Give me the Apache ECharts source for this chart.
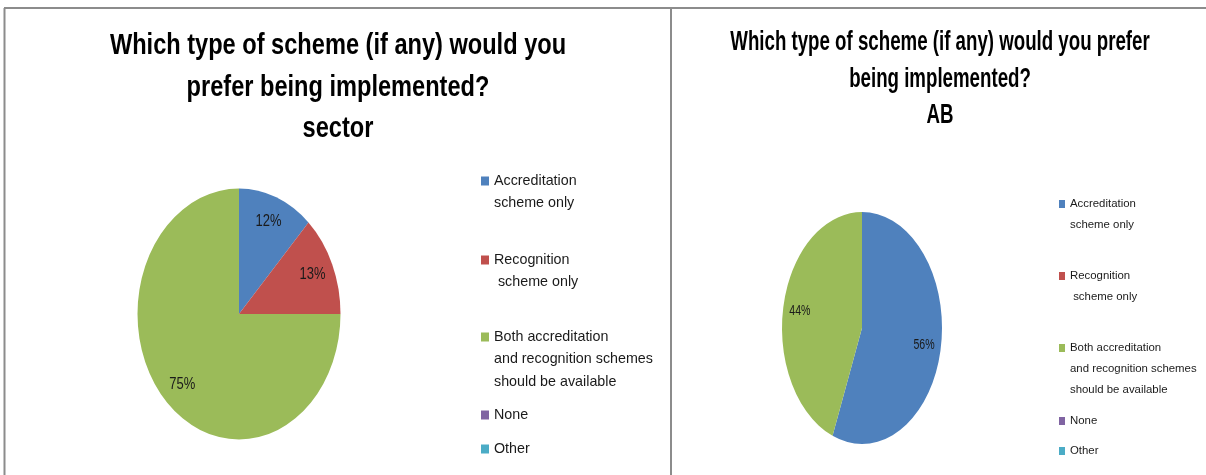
<!DOCTYPE html>
<html>
<head>
<meta charset="utf-8">
<script src="https://cdn.jsdelivr.net/npm/echarts@6/dist/echarts.min.js"></script>
<style>
html,body{margin:0;padding:0;background:#fff;}
#chart{width:1206px;height:475px;}
</style>
</head>
<body>
<div id="chart"></div>
<script>
// ---- data ----
const categories = [
  'Accreditation\nscheme only',
  'Recognition\n scheme only',
  'Both accreditation\nand recognition schemes\nshould be available',
  'None',
  'Other'
];
const sectorValues = [12, 13, 75, 0, 0];
const abValues = [56, 0, 44, 0, 0];
const titleSector = 'Which type of scheme (if any) would you\nprefer being implemented?\nsector';
const titleAB = 'Which type of scheme (if any) would you prefer\nbeing implemented?\nAB';
const colors = ['#4F81BD', '#C0504D', '#9BBB59', '#8064A2', '#4BACC6'];

const FONT = "'Liberation Sans', Arial, sans-serif";

// panel layouts (positions / sizes only)
const panels = [
  {values: sectorValues, title: titleSector, cx: 239, cy: 314, rx: 101.5, ry: 125.5,
   stretch: 1.24, labelSize: 13,
   titleX: 338, titleTop: 25.5, titleSize: 23.6, titleLine: 41.5,
   legendLeft: 481, lineH: 22.5, legendSize: 14.3, iconW: 8, iconH: 9,
   firstLine: [181, 260, 337, 415, 449]},
  {values: abValues, title: titleAB, cx: 862, cy: 328, rx: 80, ry: 116,
   stretch: 1.45, labelSize: 10.6,
   titleX: 940, titleTop: 24.5, titleSize: 18.7, titleLine: 36.5,
   legendLeft: 1059, lineH: 21, legendSize: 11.4, iconW: 6, iconH: 8,
   firstLine: [204, 276, 348, 421, 451]}
];

function sum(a) { return a.reduce((s, x) => s + x, 0); }

const series = [];
const legends = [];
const graphics = [
  {type: 'line', shape: {x1: 4, y1: 8, x2: 1206, y2: 8}, style: {stroke: '#8c8c8c', lineWidth: 2}},
  {type: 'line', shape: {x1: 4.5, y1: 8, x2: 4.5, y2: 475}, style: {stroke: '#8c8c8c', lineWidth: 2}},
  {type: 'line', shape: {x1: 671, y1: 8, x2: 671, y2: 475}, style: {stroke: '#8c8c8c', lineWidth: 2}}
];

panels.forEach(function (p) {
  // chart title (drawn tall, like the stretched original)
  graphics.push({
    type: 'text', x: p.titleX, y: p.titleTop, scaleY: p.stretch,
    style: {
      text: p.title, align: 'center', verticalAlign: 'top',
      fontFamily: FONT, fontWeight: 'bold', fontSize: p.titleSize,
      lineHeight: p.titleLine / p.stretch, fill: '#000'
    }
  });
  categories.forEach(function (name, i) {
    series.push({
      type: 'custom',
      name: name,
      coordinateSystem: 'none',
      itemStyle: {color: colors[i]},
      data: [p.values[i]],
      silent: true,
      renderItem: function (params, api) {
        const v = api.value(0);
        if (!v) return null;
        const total = sum(p.values);
        const before = sum(p.values.slice(0, i));
        const a0 = -Math.PI / 2 + 2 * Math.PI * before / total;
        const a1 = a0 + 2 * Math.PI * v / total;
        const mid = (a0 + a1) / 2;
        return {
          type: 'group',
          children: [
            {
              type: 'sector',
              x: p.cx, y: p.cy,
              scaleX: p.rx / p.ry,
              shape: {cx: 0, cy: 0, r0: 0, r: p.ry, startAngle: a0, endAngle: a1, clockwise: true},
              style: {fill: colors[i]}
            },
            {
              type: 'text',
              x: p.cx + 0.79 * p.rx * Math.cos(mid),
              y: p.cy + 0.79 * p.ry * Math.sin(mid),
              scaleY: p.stretch,
              style: {
                text: Math.round(v / total * 100) + '%',
                align: 'center', verticalAlign: 'middle',
                fontFamily: FONT, fontSize: p.labelSize, fill: '#1a1a1a'
              }
            }
          ]
        };
      }
    });
    const n = name.split('\n').length;
    legends.push({
      left: p.legendLeft,
      top: p.firstLine[i] - (n - 0.5) * p.lineH,
      orient: 'vertical',
      padding: 0,
      itemGap: 0,
      itemWidth: p.iconW,
      itemHeight: p.iconH,
      icon: 'rect',
      selectedMode: false,
      textStyle: {fontFamily: FONT, fontSize: p.legendSize, lineHeight: p.lineH, color: '#1a1a1a',
                  rich: {a: {}}},
      data: [{name: name, textStyle: {padding: [(n - 1) * p.lineH, 0, 0, 0]}}]
    });
  });
});

const chart = echarts.init(document.getElementById('chart'));
chart.setOption({
  animation: false,
  backgroundColor: '#ffffff',
  legend: legends,
  graphic: graphics,
  series: series
});
</script>
</body>
</html>
